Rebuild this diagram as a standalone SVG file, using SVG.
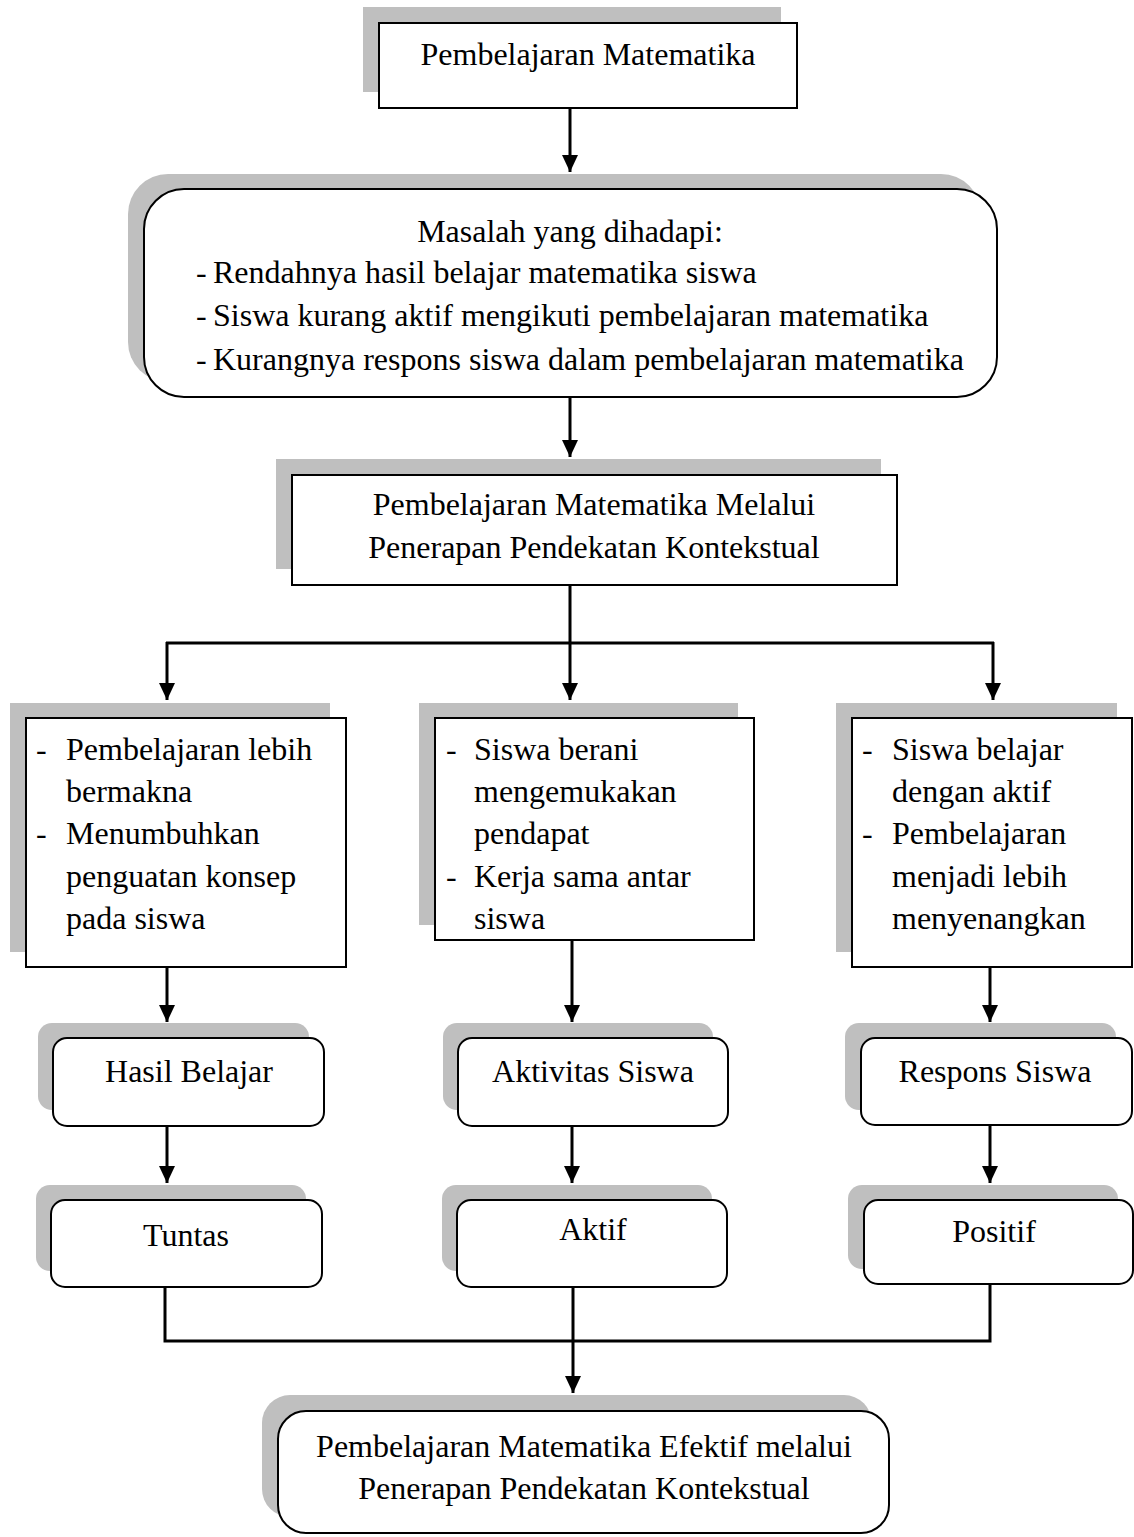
<svg xmlns="http://www.w3.org/2000/svg" width="1134" height="1537" viewBox="0 0 1134 1537">
<defs>
<marker id="ah" markerUnits="userSpaceOnUse" markerWidth="18" markerHeight="16" refX="17" refY="8" orient="auto" viewBox="0 0 18 16">
<path d="M0,0 L17,8 L0,16 Z" fill="#000"/>
</marker>
</defs>
<style>
.sh{fill:#bfbfbf;stroke:none}
.bx{fill:#fff;stroke:#000;stroke-width:2}
.t{font-family:"Liberation Serif","Times New Roman",serif;font-size:32px;fill:#000}
.c{text-anchor:middle}
.ln{fill:none;stroke:#000;stroke-width:3}
</style>
<rect width="1134" height="1537" fill="#fff"/>

<g id="n1">
<rect class="sh" x="363" y="7" width="418" height="85"/>
<rect class="bx" x="379" y="23" width="418" height="85"/>
<text class="t c" x="588" y="65">Pembelajaran Matematika</text>
</g>

<g id="n2">
<rect class="sh" x="128" y="174" width="853" height="208" rx="40"/>
<rect class="bx" x="144" y="189" width="853" height="208" rx="40"/>
<text class="t c" x="570" y="242">Masalah yang dihadapi:</text>
<text class="t" x="196" y="283">-</text><text class="t" x="213" y="283">Rendahnya hasil belajar matematika siswa</text>
<text class="t" x="196" y="326">-</text><text class="t" x="213" y="326">Siswa kurang aktif mengikuti pembelajaran matematika</text>
<text class="t" x="196" y="370">-</text><text class="t" x="213" y="370">Kurangnya respons siswa dalam pembelajaran matematika</text>
</g>

<g id="n3">
<rect class="sh" x="276" y="459" width="605" height="110"/>
<rect class="bx" x="292" y="475" width="605" height="110"/>
<text class="t c" x="594" y="515">Pembelajaran Matematika Melalui</text>
<text class="t c" x="594" y="558">Penerapan Pendekatan Kontekstual</text>
</g>

<g id="n4">
<rect class="sh" x="10" y="703" width="320" height="249"/>
<rect class="bx" x="26" y="718" width="320" height="249"/>
<text class="t" x="36" y="760">-</text><text class="t" x="66" y="760">Pembelajaran lebih</text>
<text class="t" x="66" y="802">bermakna</text>
<text class="t" x="36" y="844">-</text><text class="t" x="66" y="844">Menumbuhkan</text>
<text class="t" x="66" y="887">penguatan konsep</text>
<text class="t" x="66" y="929">pada siswa</text>
</g>

<g id="n5">
<rect class="sh" x="419" y="703" width="319" height="222"/>
<rect class="bx" x="435" y="718" width="319" height="222"/>
<text class="t" x="446" y="760">-</text><text class="t" x="474" y="760">Siswa berani</text>
<text class="t" x="474" y="802">mengemukakan</text>
<text class="t" x="474" y="844">pendapat</text>
<text class="t" x="446" y="887">-</text><text class="t" x="474" y="887">Kerja sama antar</text>
<text class="t" x="474" y="929">siswa</text>
</g>

<g id="n6">
<rect class="sh" x="836" y="703" width="281" height="249"/>
<rect class="bx" x="852" y="718" width="280" height="249"/>
<text class="t" x="862" y="760">-</text><text class="t" x="892" y="760">Siswa belajar</text>
<text class="t" x="892" y="802">dengan aktif</text>
<text class="t" x="862" y="844">-</text><text class="t" x="892" y="844">Pembelajaran</text>
<text class="t" x="892" y="887">menjadi lebih</text>
<text class="t" x="892" y="929">menyenangkan</text>
</g>

<g id="n7">
<rect class="sh" x="38" y="1023" width="271" height="87" rx="14"/>
<rect class="bx" x="53" y="1038" width="271" height="88" rx="14"/>
<text class="t c" x="189" y="1082">Hasil Belajar</text>
</g>
<g id="n8">
<rect class="sh" x="443" y="1023" width="270" height="87" rx="14"/>
<rect class="bx" x="458" y="1038" width="270" height="88" rx="14"/>
<text class="t c" x="593" y="1082">Aktivitas Siswa</text>
</g>
<g id="n9">
<rect class="sh" x="845" y="1023" width="271" height="87" rx="14"/>
<rect class="bx" x="861" y="1038" width="271" height="87" rx="14"/>
<text class="t c" x="995" y="1082">Respons Siswa</text>
</g>

<g id="n10">
<rect class="sh" x="36" y="1185" width="270" height="86" rx="14"/>
<rect class="bx" x="51" y="1200" width="271" height="87" rx="14"/>
<text class="t c" x="186" y="1246">Tuntas</text>
</g>
<g id="n11">
<rect class="sh" x="442" y="1185" width="270" height="86" rx="14"/>
<rect class="bx" x="457" y="1200" width="270" height="87" rx="14"/>
<text class="t c" x="593" y="1240">Aktif</text>
</g>
<g id="n12">
<rect class="sh" x="848" y="1185" width="270" height="84" rx="14"/>
<rect class="bx" x="864" y="1200" width="269" height="84" rx="14"/>
<text class="t c" x="994" y="1242">Positif</text>
</g>

<g id="n13">
<rect class="sh" x="262" y="1395" width="610" height="122" rx="28"/>
<rect class="bx" x="278" y="1411" width="611" height="122" rx="28"/>
<text class="t c" x="584" y="1457">Pembelajaran Matematika Efektif melalui</text>
<text class="t c" x="584" y="1499">Penerapan Pendekatan Kontekstual</text>
</g>

<g id="connectors">
<path class="ln" d="M570,109 L570,172" marker-end="url(#ah)"/>
<path class="ln" d="M570,398 L570,457" marker-end="url(#ah)"/>
<path class="ln" d="M570,586 L570,643 M166,643 L994,643"/>
<path class="ln" d="M167,642 L167,700" marker-end="url(#ah)"/>
<path class="ln" d="M570,642 L570,700" marker-end="url(#ah)"/>
<path class="ln" d="M993,642 L993,700" marker-end="url(#ah)"/>
<path class="ln" d="M167,968 L167,1022" marker-end="url(#ah)"/>
<path class="ln" d="M572,941 L572,1022" marker-end="url(#ah)"/>
<path class="ln" d="M990,968 L990,1022" marker-end="url(#ah)"/>
<path class="ln" d="M167,1127 L167,1183" marker-end="url(#ah)"/>
<path class="ln" d="M572,1127 L572,1183" marker-end="url(#ah)"/>
<path class="ln" d="M990,1126 L990,1183" marker-end="url(#ah)"/>
<path class="ln" d="M165,1288 L165,1341 L990,1341 L990,1285"/>
<path class="ln" d="M573,1288 L573,1393" marker-end="url(#ah)"/>
</g>
</svg>
